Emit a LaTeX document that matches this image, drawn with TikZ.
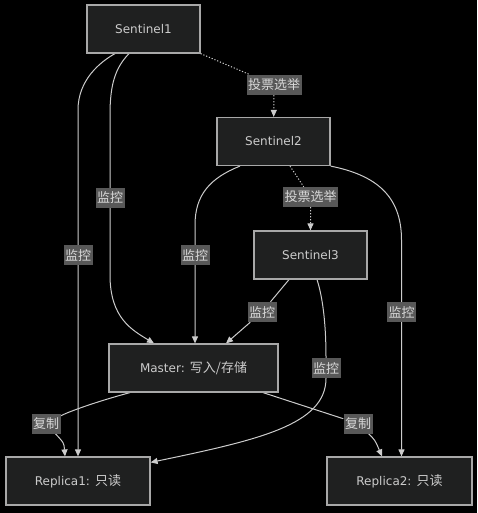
\documentclass[tikz,border=0pt]{standalone}
\usepackage{fontspec}
\setmainfont{DejaVu Sans}
\newfontfamily\cjk{Noto Sans CJK SC}
\usepackage{tikz}
\usetikzlibrary{arrows.meta, backgrounds}
\pgfdeclarelayer{edges}
\pgfsetlayers{background,edges,main}
\definecolor{nodefill}{HTML}{1F2020}
\definecolor{nodeline}{HTML}{A8A8A8}
\definecolor{nodetext}{HTML}{CCCCCC}
\definecolor{lblfill}{HTML}{585858}
\definecolor{lbltext}{HTML}{D8D8D8}
\definecolor{edgeline}{HTML}{CCCCCC}

\begin{document}
\begin{tikzpicture}[x=1pt, y=-1pt,
  main node/.style={rectangle,draw=nodeline,fill=nodefill,text=nodetext,line width=1.2pt,
    minimum height=48pt,inner sep=0pt,font=\fontsize{12}{14}\selectfont},
  lbl node/.style={fill=lblfill,text=lbltext,inner xsep=1.5pt,inner ysep=0pt,
    minimum height=20pt,font=\cjk\fontsize{13}{15}\selectfont},
  flow/.style={draw=edgeline,line width=1pt,-{Triangle[length=7pt,width=6pt]}},
  vote/.style={flow,dash pattern=on 1.2pt off 1.8pt}]

\useasboundingbox (0,0) rectangle (477,513);
\begin{pgfonlayer}{background}
\fill[black] (0,0) rectangle (477,513);
\end{pgfonlayer}

\node[main node, minimum width=113pt] (S1) at (143.5,29) {Sentinel1};
\node[main node, minimum width=113pt] (S2) at (273.5,141.5) {Sentinel2};
\node[main node, minimum width=113pt] (S3) at (310.5,255) {Sentinel3};
\node[main node, minimum width=169pt] (M) at (193.5,368) {Master: {\cjk\fontsize{13}{14}\selectfont 写入/存储}};
\node[main node, minimum width=144pt] (R1) at (78,481) {Replica1: {\cjk\fontsize{13}{14}\selectfont 只读}};
\node[main node, minimum width=145pt] (R2) at (399.5,481) {Replica2: {\cjk\fontsize{13}{14}\selectfont 只读}};

\node[lbl node] (v1) at (274,85) {投票选举};
\node[lbl node] (v2) at (310.5,197) {投票选举};
\node[lbl node] (m1) at (78,255) {监控};
\node[lbl node] (m2) at (110,198) {监控};
\node[lbl node] (m3) at (195,255) {监控};
\node[lbl node] (m4) at (401.5,312) {监控};
\node[lbl node] (m5) at (262,312) {监控};
\node[lbl node] (m6) at (326,368) {监控};
\node[lbl node] (c1) at (46,423.5) {复制};
\node[lbl node] (c2) at (358,423.5) {复制};

\begin{pgfonlayer}{edges}
\draw[flow] ([xshift=-28.5pt]S1.south) .. controls (100,62) and (78,80) .. (78,110) -- (m1) -- (R1);
\draw[flow] ([xshift=-14.5pt]S1.south) .. controls (115,68) and (110,85) .. (110,115) -- (m2)
  -- (110,275) .. controls (110,318) and (132,330) .. ([xshift=-39.5pt]M.north);
\draw[vote] (S1.south east) -- (v1) -- (S2);
\draw[flow] ([xshift=-33.5pt]S2.south) .. controls (210,178) and (195,195) .. (195,225) -- (m3) -- (m3 |- M.north);
\draw[vote] ([xshift=16.5pt]S2.south) -- (v2) -- (S3);
\draw[flow] (S2.south east) .. controls (375,175) and (401.5,195) .. (401.5,240) -- (m4) -- (m4 |- R2.north);
\draw[flow] ([xshift=-21.5pt]S3.south) -- (m5) -- ([xshift=32.5pt]M.north);
\draw[flow] ([xshift=6.5pt]S3.south) .. controls (322,295) and (326,320) .. (m6)
  .. controls (326,425) and (258,440) .. ([yshift=-6pt]R1.north east);
\draw[flow] ([xshift=-63.5pt]M.south) .. controls (95,402) and (68,412) .. (c1)
  .. controls (64,443) .. ([xshift=-13pt]R1.north);
\draw[flow] ([xshift=69.5pt]M.south) -- (c2) .. controls (375,440) .. ([xshift=-17.5pt]R2.north);
\end{pgfonlayer}

\end{tikzpicture}
\end{document}
